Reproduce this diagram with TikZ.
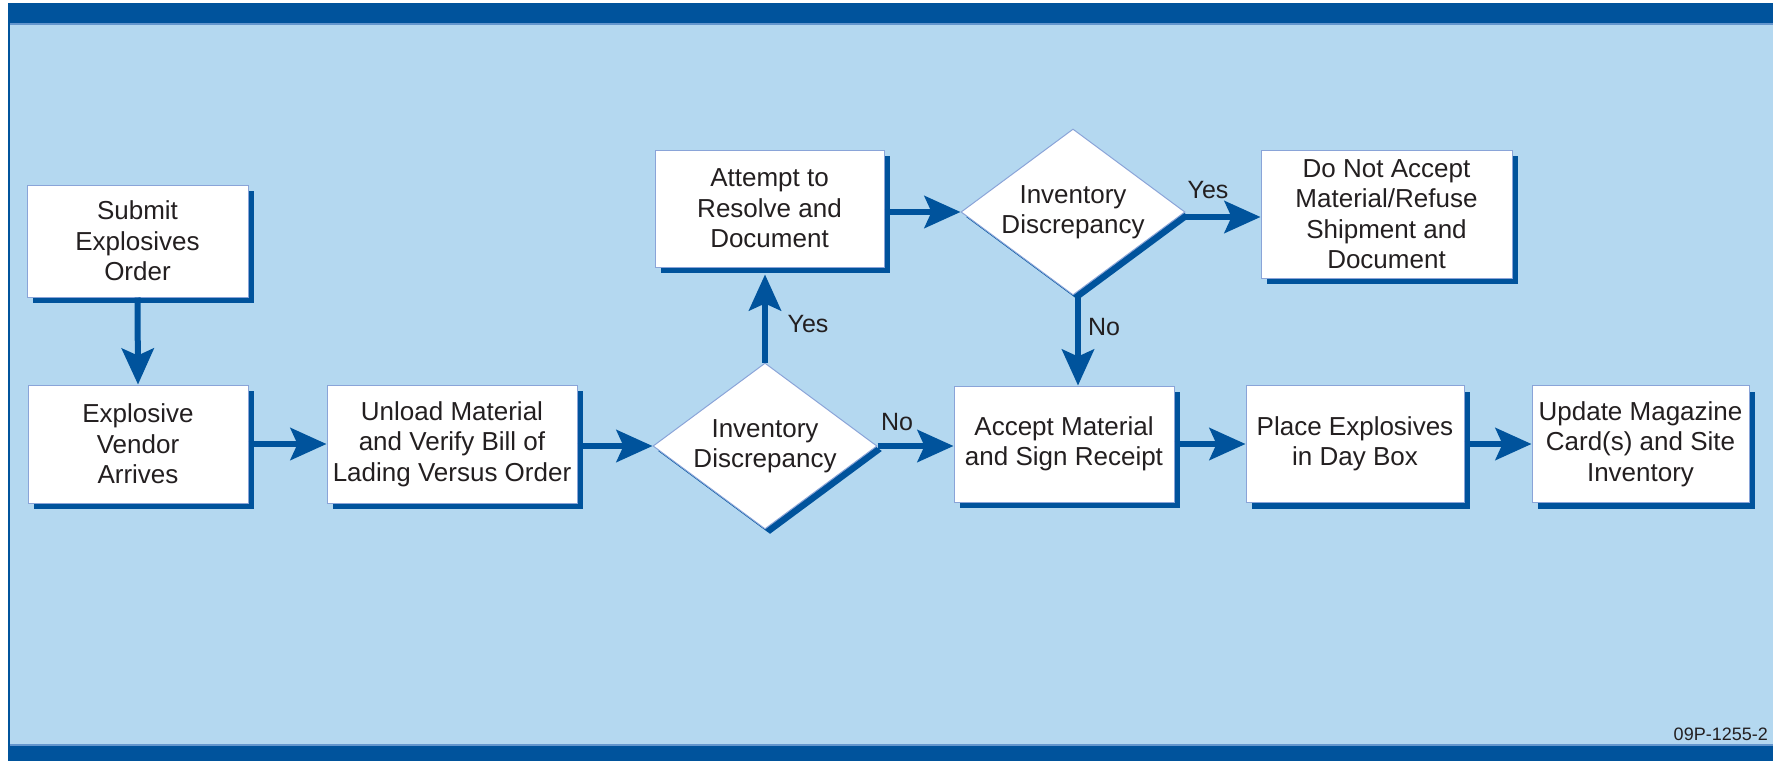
\documentclass[tikz,border=0pt]{standalone}
\usepackage{fontspec}
\setmainfont{Liberation Sans}
\usetikzlibrary{shapes.geometric,arrows.meta,shadows}
\definecolor{dkblue}{RGB}{0,83,156}
\definecolor{bgblue}{RGB}{180,216,240}
\definecolor{edgeblue}{RGB}{138,164,216}
\definecolor{midblue}{RGB}{100,150,205}
\definecolor{txt}{RGB}{35,31,32}
\tikzset{
  boxshadow/.style={general shadow={fill=dkblue, shadow xshift=6pt, shadow yshift=-6pt}},
  procbox/.style={rectangle, draw=edgeblue, line width=1pt, fill=white, boxshadow,
    inner sep=0pt, align=center, text=txt, font=\fontsize{26}{30.5}\selectfont},
  decision/.style={diamond, aspect=1.35, draw=edgeblue, line width=1pt, fill=white,
    general shadow={fill=dkblue, shadow xshift=5pt, shadow yshift=-5pt},
    inner sep=0pt, minimum width=224pt, minimum height=166pt, align=center, text=txt,
    font=\fontsize{26}{30.5}\selectfont},
  flow/.style={draw=dkblue, line width=6pt, -{Stealth[length=36pt,width=32pt,inset=7pt]}},
  lbl/.style={text=txt, inner sep=0pt, font=\fontsize{25}{30}\selectfont}
}
\begin{document}
\begin{tikzpicture}[x=1pt,y=-1pt]
\useasboundingbox (0,0) rectangle (1773,761);
% frame
\fill[white] (0,0) rectangle (1773,761);
\fill[bgblue] (8,3) rectangle (1773,761);
\fill[midblue] (8,23) rectangle (1773,25);
\fill[midblue] (8,744) rectangle (1773,746);
\fill[dkblue] (8,3) rectangle (1773,23);
\fill[dkblue] (8,746) rectangle (1773,761);
\fill[dkblue] (8,3) rectangle (10,761);

% nodes
\node[procbox, minimum width=221pt, minimum height=112pt] (submit) at (137.5,241) {Submit\\Explosives\\Order};
\node[procbox, minimum width=220pt, minimum height=118pt] (vendor) at (138,444) {Explosive\\Vendor\\Arrives};
\node[procbox, minimum width=250pt, minimum height=118pt] (unload) at (452,444) {Unload Material\\and Verify Bill of\\Lading Versus Order};
\node[decision] (d1) at (765,446) {Inventory\\Discrepancy};
\node[procbox, minimum width=229pt, minimum height=117pt] (attempt) at (769.5,208.5) {Attempt to\\Resolve and\\Document};
\node[decision] (d2) at (1073,212) {Inventory\\Discrepancy};
\node[procbox, minimum width=251pt, minimum height=128pt] (dna) at (1386.5,214) {Do Not Accept\\Material/Refuse\\Shipment and\\Document};
\node[procbox, minimum width=220pt, minimum height=116pt] (accept) at (1064,444) {Accept Material\\and Sign Receipt};
\node[procbox, minimum width=218pt, minimum height=117pt] (place) at (1355,444) {Place Explosives\\in Day Box};
\node[procbox, minimum width=217pt, minimum height=117pt] (update) at (1640.5,444) {Update Magazine\\Card(s) and Site\\Inventory};

% connectors
\draw[flow] (submit.south) -- (vendor.north);
\draw[flow] (vendor.east) -- (unload.west);
\draw[flow] (unload.east |- d1.west) -- (d1.west);
\draw[flow] (d1.east) -- (accept.west |- d1.east);
\draw[flow] (d1.north) -- ([yshift=-7pt]attempt.south -| d1.north);
\draw[flow] (attempt.east |- d2.west) -- (d2.west);
\draw[flow] ([yshift=-5pt]d2.east) -- ([yshift=-5pt]dna.west |- d2.east);
\draw[flow] ([xshift=5pt]d2.south) -- ([xshift=5pt]d2.south |- accept.north);
\draw[flow] (accept.east) -- (place.west);
\draw[flow] (place.east) -- (update.west);

% labels
\node[lbl] (yes1) at (808,324) {Yes};
\node[lbl] (no1) at (897,422) {No};
\node[lbl] (no2) at (1104,327) {No};
\node[lbl] (yes2) at (1208,190) {Yes};
\node[anchor=base east, inner sep=0pt, text=txt, font=\fontsize{18}{20}\selectfont] (code) at (1768,740) {09P-1255-2};
\end{tikzpicture}
\end{document}
